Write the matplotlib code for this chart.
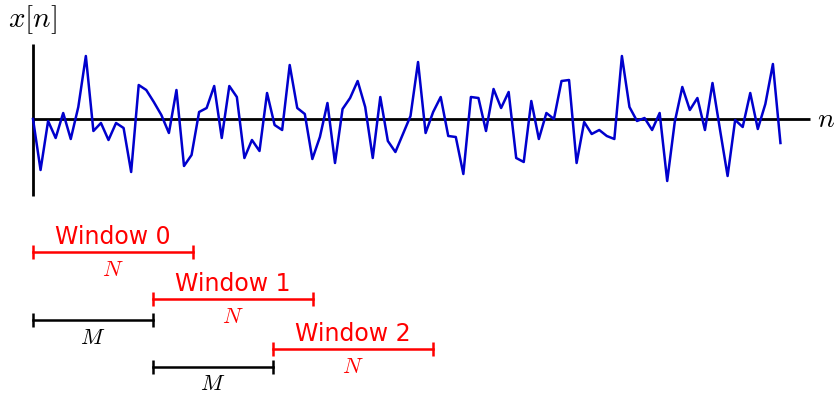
import numpy as np
import matplotlib
matplotlib.use("Agg")
import matplotlib.pyplot as plt

plt.rcParams["mathtext.fontset"] = "cm"

# Signal x[n], n = 0..99 (Einheit ~ Pixel ueber der Achse)
WERTE = [0, -51, -2, -19, 6, -20, 12, 63, -12, -4,
         -21, -4, -9, -53, 34, 29, 17, 4, -14, 29,
         -47, -36, 7, 11, 33, -19, 33, 22, -39, -21,
         -32, 26, -6, -11, 54, 11, 5, -40, -18, 16,
         -44, 10, 21, 38, 12, -39, 22, -22, -33, -15,
         3, 57, -14, 7, 22, -17, -18, -55, 22, 21,
         -12, 30, 11, 27, -39, -43, 18, -20, 6, 0,
         38, 39, -44, -3, -15, -11, -17, -20, 63, 12,
         -2, 1, -11, 6, -62, -3, 32, 9, 21, -11,
         36, -11, -57, -1, -8, 26, -10, 15, 55, -24]
SKALA = 64.0

N_LAENGE = 21.2
M_SCHRITT = 15.9
FENSTER = ["Window 0", "Window 1", "Window 2"]

n = np.arange(len(WERTE))
x = np.array(WERTE) / SKALA

fig = plt.figure(figsize=(8.38, 3.93), dpi=100)
ax = fig.add_axes([0, 0, 1, 1])
ax.set_xlim(-33 / 7.55, (838 - 33) / 7.55)
ax.set_ylim(-(393 - 119) / SKALA, 119 / SKALA)
ax.axis("off")

# Achsen
ax.plot([0, 102.9], [0, 0], color="black", lw=2.0, solid_capstyle="butt", zorder=1)
ax.plot([0, 0], [-1.2, 1.17], color="black", lw=2.0, solid_capstyle="butt", zorder=1)
ax.text(-0.1, 1.55, r"$x[n]$", fontsize=21, ha="center", va="center")
ax.text(105.0, 0.0, r"$n$", fontsize=20, ha="center", va="center")

# Signal
ax.plot(n, x, color="#0000CD", lw=1.8, zorder=2)

# Fenster
Y_FENSTER = [-2.078, -2.813, -3.594]
Y_M = [-3.14, -3.87]
for i, name in enumerate(FENSTER):
    start = i * M_SCHRITT
    y = Y_FENSTER[i]
    ax.plot([start, start + N_LAENGE], [y, y], color="red", lw=1.8,
            marker="|", markersize=10, markeredgewidth=1.8)
    ax.text(start + N_LAENGE / 2, y + 0.125, name, color="red", fontsize=17,
            ha="center", va="baseline")
    ax.text(start + N_LAENGE / 2, y - 0.12, r"$N$", color="red", fontsize=16,
            ha="center", va="top")
    if i > 0:
        ym = Y_M[i - 1]
        ax.plot([start - M_SCHRITT, start], [ym, ym], color="black", lw=1.8,
                marker="|", markersize=10, markeredgewidth=1.8)
        ax.text(start - M_SCHRITT / 2, ym - 0.12, r"$M$", color="black", fontsize=16,
                ha="center", va="top")

fig.savefig("out.png", dpi=100)
